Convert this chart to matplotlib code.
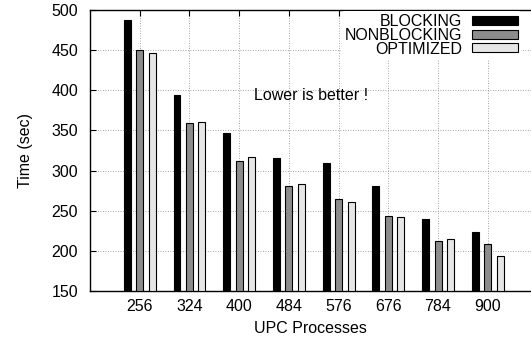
import matplotlib
matplotlib.use("Agg")
import matplotlib.pyplot as plt
import numpy as np

categories = ["256", "324", "400", "484", "576", "676", "784", "900"]
blocking = [487, 394, 347, 316, 309, 281, 240, 224]
nonblocking = [450, 359, 312, 281, 265, 243, 212, 208]
optimized = [446, 360, 317, 283, 261, 242, 215, 194]
series_names = ["BLOCKING", "NONBLOCKING", "OPTIMIZED"]
yticks = [150, 200, 250, 300, 350, 400, 450, 500]

plt.rcParams['font.family'] = ['Liberation Sans', 'DejaVu Sans']
FS = 11.5

fig = plt.figure(figsize=(5.31, 3.37), dpi=100)
ax = fig.add_axes([90/531, 46/337, 1 - 90/531, 281/337])

x = np.arange(1, len(categories) + 1)
colors = ["#000000", "#8c8c8c", "#e6e6e6"]
offsets = [-0.25, 0, 0.25]
width = 0.14
handles = []
for vals, c, off, name in zip([blocking, nonblocking, optimized], colors, offsets, series_names):
    h = ax.bar(x + off, np.array(vals) - 150, bottom=150, width=width, color=c,
               edgecolor="black", linewidth=0.8, label=name, zorder=3)
    handles.append(h)

ax.set_xlim(0, 8.87)
ax.set_ylim(150, 500)
ax.set_xticks(x)
ax.set_xticklabels(categories, fontsize=FS)
ax.set_yticks(yticks)
ax.set_yticklabels([str(v) for v in yticks], fontsize=FS)
ax.tick_params(axis="y", direction="in", right=False, length=4, width=0.8, pad=8.5)
ax.tick_params(axis="x", direction="in", top=True, length=4, width=0.8, pad=6)
ax.grid(True, linestyle=(0, (1, 2)), color="#888888", linewidth=0.6, zorder=0)
ax.set_axisbelow(True)
ax.spines['right'].set_visible(False)
for s in ['left', 'top', 'bottom']:
    ax.spines[s].set_linewidth(1.0)

ax.set_xlabel("UPC Processes", fontsize=FS, labelpad=5)
ax.set_ylabel("Time (sec)", fontsize=FS, labelpad=13)

ax.text(4.45, 394, "Lower is better !", fontsize=FS, ha="center", va="center", zorder=4)

leg = ax.legend(handles=handles, loc="upper right", bbox_to_anchor=(0.985, 1.008),
                frameon=True, fontsize=FS, markerfirst=False, handlelength=2.9,
                handleheight=0.5, labelspacing=-0.08, handletextpad=0.6,
                borderpad=0.2, borderaxespad=0.2)
leg.get_frame().set_edgecolor("none")
leg.get_frame().set_facecolor("white")
leg.get_frame().set_alpha(1)
for t in leg.get_texts():
    t.set_ha("right")

fig.savefig("out.png", dpi=100)
